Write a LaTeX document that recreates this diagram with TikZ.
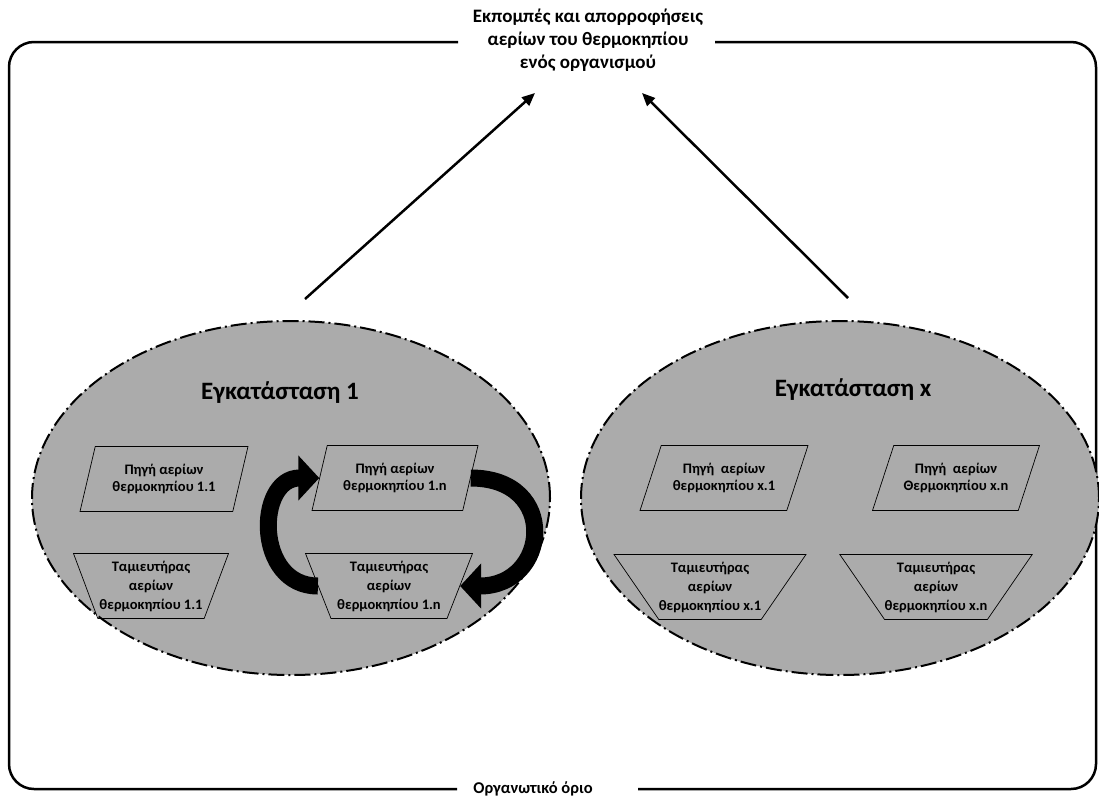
\documentclass[tikz,border=0pt]{standalone}
\usepackage{fontspec}
\setmainfont{Carlito}
\usepackage{tikz}
\usetikzlibrary{arrows.meta, positioning, shapes.geometric}

\tikzset{
	frame/.style={line width=2.5pt, rounded corners=25pt},
	site/.style={ellipse, draw, line width=2pt, dash pattern=on 16pt off 4pt on 2pt off 4pt, fill=black!33, minimum width=518pt, minimum height=354pt},
	sitetitle/.style={font=\bfseries\fontsize{25}{30}\selectfont},
	srcbox/.style={trapezium, trapezium stretches body, draw, line width=0.7pt, align=center, inner xsep=0pt, minimum height=65pt, font=\bfseries\fontsize{14.5}{17.5}\selectfont},
	resbox/.style={srcbox, shape border rotate=180, font=\bfseries\fontsize{14.5}{19}\selectfont},
	flowarrow/.style={line width=2.5pt, -{Triangle[length=13pt,width=11pt]}},
	turnarrow/.style={line width=17pt, -{Triangle[length=21pt,width=44pt]}}
}

\begin{document}
\begin{tikzpicture}[x=1pt, y=-1pt]
	\useasboundingbox (0,0) rectangle (1099,798);
	\draw[frame] (458,42) -- (9,42) -- (9,789) -- (457,789);
	\draw[frame] (715,42) -- (1096,42) -- (1096,789) -- (638,789);
	\node [align=center, font=\bfseries\fontsize{19}{23}\selectfont] (emis) at (588,40) {Εκπομπές και απορροφήσεις\\αερίων του θερμοκηπίου\\ενός οργανισμού};
	\node [font=\bfseries\fontsize{16.5}{20}\selectfont] (orgb) at (533,789) {Οργανωτικό όριο};

	\node [site] (site1) at (291,498) {};
	\node [site] (sitex) at (840,498) {};
	\node [sitetitle] (title1) at (280,393) {Εγκατάσταση 1};
	\node [sitetitle] (titlex) at (853,390) {Εγκατάσταση x};

	\node [srcbox, trapezium left angle=67.5, trapezium right angle=112.5, minimum width=168pt] (src11) at (164,479) {Πηγή αερίων\\θερμοκηπίου 1.1};
	\node [srcbox, trapezium left angle=67.5, trapezium right angle=112.5, minimum width=166pt] (src1n) at (395,478) {Πηγή αερίων\\θερμοκηπίου 1.n};
	\node [resbox, trapezium left angle=67, trapezium right angle=67, minimum width=155pt] (res11) at (151,586) {Ταμιευτήρας\\αερίων\\θερμοκηπίου 1.1};
	\node [resbox, trapezium left angle=66, trapezium right angle=66, minimum width=167pt] (res1n) at (389,586) {Ταμιευτήρας\\αερίων\\θερμοκηπίου 1.n};

	\node [srcbox, trapezium left angle=60, trapezium right angle=120, minimum width=168pt] (srcx1) at (724,478) {Πηγή \ αερίων\\θερμοκηπίου x.1};
	\node [srcbox, trapezium left angle=60, trapezium right angle=120, minimum width=167pt] (srcxn) at (956,478) {Πηγή \ αερίων\\Θερμοκηπίου x.n};
	\node [resbox, trapezium left angle=52, trapezium right angle=52, minimum width=186pt] (resx1) at (710,587) {Ταμιευτήρας\\αερίων\\θερμοκηπίου x.1};
	\node [resbox, trapezium left angle=52, trapezium right angle=52, minimum width=186pt] (resxn) at (936,587) {Ταμιευτήρας\\αερίων\\θερμοκηπίου x.n};

	\draw[turnarrow] (res1n.west) to[out=180, in=180, looseness=1.5] (src1n.west);
	\draw[turnarrow] (src1n.east) to[out=0, in=0, looseness=2.1] (res1n.east);

	\coordinate (from1) at (305,299);
	\coordinate (to1) at (535,93);
	\coordinate (fromx) at (848,298);
	\coordinate (tox) at (642,93);
	\draw[flowarrow] (from1) -- (to1);
	\draw[flowarrow] (fromx) -- (tox);
\end{tikzpicture}
\end{document}
